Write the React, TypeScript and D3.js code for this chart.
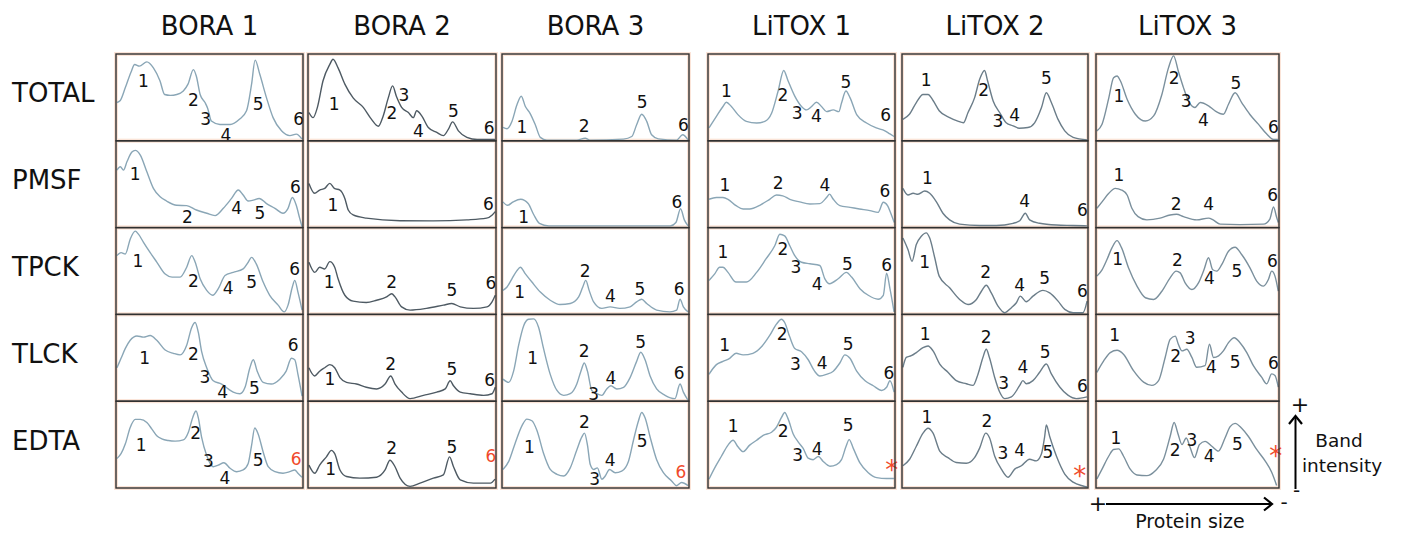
import React from "react";
import * as d3 from "d3";

// ---------- categories ----------
const samples = ["BORA 1", "BORA 2", "BORA 3", "LiTOX 1", "LiTOX 2", "LiTOX 3"];
const treatments = ["TOTAL", "PMSF", "TPCK", "TLCK", "EDTA"];

// ---------- densitometry traces: [relative position %, band intensity %] ----------
const bora1Total = [[0.5,44.6],[2.3,47],[5,62],[8,80],[10,89],[12.5,87],[16.5,92],[20,85],[23.5,70],[26,54],[29,53],[32.5,54],[36,58],[38.5,66],[41.4,83],[43,75],[45,54],[47.6,44.6],[49,38],[51,23],[55.6,19],[61,19],[66,25],[69.8,35],[72.5,66],[74.4,94],[76.9,77.5],[80.5,50],[84,27],[88.5,11.6],[93,6],[96.4,7.8],[99.5,2]];
const bora2Total = [[0.5,33],[2.7,27],[5,39],[8,70],[11.6,89],[13.3,95],[16,85],[19.6,66],[24,50],[29.4,39],[33.8,25],[37.4,17],[40,29],[42.7,50],[45,64],[47,52],[49.8,39],[53.4,33],[56,27],[57.8,35],[60.5,29],[64,15.5],[68.5,9.7],[72,6],[74.7,13.6],[76.9,22],[80,11.6],[84.5,4],[90,1.5],[99.5,1.5]];
const bora3Total = [[0.5,15.6],[2.7,14],[5.3,22.6],[8,42],[10.3,52],[12.5,40],[15,32],[17.8,18.7],[20.5,4],[24,0.8],[40,0.8],[44.5,3],[47,0.8],[65,2],[69.4,5],[72,18.7],[74.7,31],[77.4,22.6],[80,7],[83.6,2.3],[93.4,0.8],[96.6,7],[99.5,1]];
const litox1Total = [[0.5,15],[4.5,28.5],[8,40],[9.8,45],[12.5,40],[16,30.5],[20.5,22.6],[26,20.7],[30.4,22.6],[34,32],[37.5,58],[40.5,82],[42.8,70],[46.4,52],[50,40],[52.7,36],[55.4,40],[58,45],[60.7,40],[63.4,34],[67,36],[70,34],[71.4,44],[73.75,58],[76,50],[79.5,30.5],[84.8,20.7],[90,15],[94.6,11.7],[97.3,8],[99.5,5]];
const litox2Total = [[0.5,25],[4,31],[7.7,44.6],[11.3,54],[14,54],[16.7,47],[20,35],[25.6,27],[30,23],[33,21],[35.5,33],[39,50],[41.8,72],[44.4,82],[46,70],[49,46.5],[52.5,33],[56,21],[59.7,17.4],[63,14.7],[67.7,15.5],[71.3,21],[75,38.8],[77.6,56],[80.3,44.6],[83.9,25],[87.5,11.6],[92,4],[99.5,1]];
const litox3Total = [[0.5,11.6],[3.3,19.4],[7,50],[9.6,73.6],[11.5,75.6],[13.3,70],[17,48.4],[21.5,31],[27,23],[31.5,29],[36,54],[39.6,85],[42.4,99],[45,81],[47.8,62],[50.5,46.5],[54,38.8],[57,44.6],[61.5,40.7],[65,35],[69.6,31],[72.4,42.6],[76,56],[79.6,44.6],[84,31],[88.7,19.4],[93.3,7.8],[97,1.5],[99.6,1.5]];

const bora1Pmsf = [[0.5,67],[2.3,71],[4,67],[5.9,77],[8.5,88],[10.3,90],[13,84.5],[16.5,65],[20,45.7],[23.6,36],[27,31],[32.5,26],[37.8,25.6],[43,20.5],[48.5,16.7],[53,14],[57.4,22.5],[61.8,34],[65.4,43.8],[68,38],[70.7,31],[73.4,32],[76.6,34],[80.5,28],[85,22.5],[89.3,16.7],[92,22.5],[94.3,35],[96.4,26],[98.2,11],[99.5,1]];
const bora2Pmsf = [[0.5,51.5],[3.5,40],[6.2,43.8],[8.9,45.7],[11.6,51.5],[14,45.7],[17,43.8],[19.6,34],[21.4,20.5],[24,14.7],[31,11],[49,8],[66.7,7.8],[84.5,9],[95,11],[98,14.7],[99.6,18.6]];
const bora3Pmsf = [[0.5,30],[3,26],[6,30],[10,33],[14,28],[17,15],[20,5],[25,2],[90,2],[93,6],[95.5,22],[97.5,9],[99.5,2]];
const litox1Pmsf = [[0.5,33],[4.5,35],[8,35],[10.7,33],[15,25.6],[18.75,21.7],[22.3,21.7],[27.7,26],[33,33],[36.6,38],[40,37],[43.75,33],[49,30],[54.5,27.5],[59.8,28],[63.4,35],[65,39],[67,33],[70.5,25.6],[76,23.6],[81,21.7],[86.6,19.8],[91,17.8],[93.75,29.5],[96,25.6],[98.2,14],[99.6,6]];
const litox2Pmsf = [[0.5,45.7],[3.2,38],[6,40],[8.6,38.8],[12.2,42.6],[14.9,40],[18.5,30],[22,16.7],[25.6,9],[31,4],[41.8,2.5],[50.7,2.5],[59.7,5],[63.3,8],[66.3,16.7],[68.6,9],[74,5],[83,3],[92,2.5],[99.5,2]];
const litox3Pmsf = [[0.5,22.5],[3.3,30],[7,40],[10.5,45.7],[14,43.8],[17,38],[19.6,22.5],[23,12.8],[27.8,9],[35,11],[40.5,14.7],[44,15.5],[47.8,12.8],[55,9],[61.5,11],[64,9],[67.8,4],[78.7,3.5],[91.5,4],[95,10],[97,24],[98.7,12],[99.6,6]];

const bora1Tpck = [[0.5,68.5],[2.7,72],[5,70.4],[7.6,87.7],[10.3,97],[12,93.5],[14.7,84],[18.3,72],[21.8,61],[26.3,47],[30,43.5],[34.3,43.5],[37.8,55],[40.5,68.5],[42.3,61],[45,41.5],[48.5,28],[51.7,22.3],[54.7,30],[58.3,45.4],[62.7,49],[68,53],[70.7,60.8],[72.5,66.5],[75,58.8],[78.7,37.7],[82.2,22.3],[86.7,10.8],[90,3],[92,10.8],[94.3,32],[95.6,39.6],[97.3,26],[99.5,5]];
const bora2Tpck = [[0.5,60.8],[3.6,49],[6.2,55],[8.9,53],[11.6,61.5],[14.2,55],[16,41.5],[19.6,22.3],[24,15.4],[31,13.8],[36.5,16.5],[41.8,20.4],[44.5,24],[46.3,20.4],[49.8,8.8],[54.3,5],[63,7],[72,10.8],[76.5,12.7],[81,8.8],[88,7],[95.2,8.8],[97.9,14.6],[99.6,22.3]];
const bora3Tpck = [[0.5,28],[2.7,32],[5.3,41.5],[8,51],[9.8,55],[12.5,47.3],[16,37.7],[20.5,26],[25.8,16.5],[31,11.5],[36.5,12.7],[41,20.4],[43.2,32],[44.8,39.6],[46.6,28],[49,14.6],[53.4,7],[57.8,8.8],[63,7],[68.5,8.8],[72,14.6],[74.7,17.7],[77.4,12.7],[82.7,5],[89.8,3],[93.4,5],[95.2,17.7],[97,8.8],[99.5,3]];
const litox1Tpck = [[0.5,39.6],[3.6,47.3],[6.25,55],[8,55],[10.7,49],[15,37.7],[20.5,37.7],[26,49],[31,64.6],[35.7,80],[38.4,93.5],[41,91.5],[43.75,80],[46.4,68.5],[50,60.8],[54.5,59],[59.8,57],[62.5,41.5],[65,35.8],[69.6,41.5],[74,49],[76.8,43.5],[81.25,30],[85.7,22.3],[91,17.7],[93.75,22.3],[95.5,48],[97.3,30],[99.5,3]];
const litox2Tpck = [[0.5,89],[3.2,75.6],[5.4,62],[7.7,81.4],[10.4,91],[13,95],[14.9,89],[17.6,66],[20,44.6],[25.6,31],[31,17.4],[35.5,11.6],[40,17.4],[42.7,27],[45.3,34],[48,25],[51.6,9.7],[55.2,2],[58.8,7.8],[61.5,13.6],[63.6,21.3],[66.8,14.7],[70.4,21.3],[75.8,28],[79.4,25],[83.9,15.5],[87.5,5.8],[92,2],[97.3,2],[99.5,15.5]];
const litox3Tpck = [[0.5,44.6],[3.3,52],[6,64],[8.7,77.5],[11.5,86],[14,77.5],[17.8,54],[22.4,33],[27,19.4],[31.5,17.4],[36,27],[40.5,42.6],[43.8,50.4],[46,48.4],[48.7,36.8],[52.4,29],[56,36.8],[59,52],[61.5,66],[63.8,52],[66,50.4],[68.7,58],[72.4,73.6],[76,78.3],[79.6,69.8],[84.2,54],[87.8,38.8],[91.5,33],[94.2,40.7],[96,50.4],[97.8,44.6],[99.6,27]];

const bora1Tlck = [[0.5,39],[2.7,50],[5,61.5],[7.6,71],[11.2,76],[14.7,74.7],[18.3,76.6],[21.8,71],[26.3,59.6],[30.7,55.8],[34.3,54],[37.8,65.3],[40.5,86],[42.3,91.7],[44,80.4],[45.8,57.7],[48.5,39],[52,23.8],[56.5,20],[60,14.3],[62.7,10.6],[66.3,8.7],[69,16.2],[71.6,39],[73.4,48.3],[75.5,35],[78.7,21.9],[83,20],[87.6,25.7],[91,35],[93.8,50],[95.6,48.3],[97.3,31.3],[99.5,6]];
const bora2Tlck = [[0.5,39],[3.5,29.4],[6.2,35],[8.9,39],[11.6,42.6],[14.2,39],[17,27.5],[20.5,21.9],[25.8,20],[31,16.2],[36.5,14.3],[41,20],[44,29.4],[46.3,20],[49.8,10.6],[54.3,3],[61.4,6.8],[68.5,10.6],[73,14.3],[75.6,23.8],[77.4,18],[81,10.6],[86.3,8.7],[93.4,6.8],[97.9,8.7],[99.6,16.2]];
const bora3Tlck = [[0.5,25.7],[3.6,21.9],[6.2,35],[8.9,65.3],[11.6,88],[14.2,95.5],[16.9,96],[19.6,86],[22.2,61.5],[25.8,31.3],[29.4,12.5],[33,6.8],[36.5,8.7],[40,20],[42.2,35],[44,44.5],[45.7,35],[48,12.5],[50.7,8.7],[53.4,6.8],[56,14.3],[58.2,18],[61.4,14.3],[65,16.2],[68.5,27.5],[72,46.4],[74.2,57],[76.5,48.3],[79.2,29.4],[82.7,14.3],[87.2,6.8],[92.5,3],[95.2,20],[97,10.6],[99.5,1]];
const litox1Tlck = [[0.5,31.3],[4.5,42.6],[8,46.4],[11.6,50],[15,55.8],[18.75,54],[24,55.8],[28.6,63.4],[33,76.6],[36.6,89.8],[39.3,95.5],[41,91.7],[43.75,74.7],[46.4,61.5],[50,57.7],[53.6,48.3],[57,35],[59.8,29.4],[63.4,31.3],[67,35],[70.5,44.5],[73.2,54],[75.9,50],[79.5,35],[84,23.8],[88.4,18],[92.9,12.5],[95.5,16.2],[97.3,23.8],[99.5,10.6]];
const litox2Tlck = [[0.5,39.5],[2.3,51],[5,53],[7.7,56.7],[11.3,62.5],[14,64.4],[16.7,58.6],[20.3,43.3],[24.7,33.7],[29.2,24],[34.6,20.3],[38.2,18.4],[40.9,31.8],[43.5,51],[45.3,60.5],[47,51],[49.8,28],[52.5,10.7],[55.2,3],[58.8,5],[63.3,18.4],[65,24],[66.8,20.3],[70.4,24],[74,33.7],[77.6,43.3],[80.3,31.8],[84.8,16.5],[89.2,7],[93.7,3],[99.5,5]];
const litox3Tlck = [[0.5,33.7],[4.2,47],[7.8,56.7],[11.5,59.4],[15,54.8],[20.5,35.6],[26,22.2],[30.5,18.4],[34.2,24],[37.8,51],[40.5,72],[43.3,75.9],[45,66.3],[47,58.6],[49.6,60.5],[52.4,51],[55,39.5],[59.6,41.4],[62,66.3],[64.2,51],[67,52.9],[69.6,58.6],[72.4,68.2],[75.5,74],[78.7,68.2],[82.4,56.7],[86,41.4],[90.5,28],[93.3,20.3],[96,31.8],[97.8,29.9],[99.6,16.5]];

const bora1Edta = [[0.5,34.4],[2.7,40],[5,51.5],[7.6,70.6],[10.3,80],[13,80],[16.5,76.3],[19.2,68.7],[21.8,61],[24.5,57.3],[28,55.3],[31.6,54.6],[36,56],[38.7,65],[41,82],[42.8,89.7],[44,82],[45.8,59],[48.5,38],[52,24.8],[54.7,26.7],[57.7,29.4],[61,23],[64.5,19],[68,21],[70.7,28.6],[72.5,49.6],[74.2,70],[76,63],[78.7,42],[81.4,24.8],[85,19],[89.3,17.2],[92.9,19],[95.6,21],[97.3,17.2],[99.5,12.6]];
const bora2Edta = [[0.5,26.7],[3.6,17.2],[6.2,26.7],[9.8,36.3],[12.5,43.9],[14.2,40],[17,21],[20.5,13.4],[27.6,11.5],[36.5,12.6],[41,21],[43.6,32.4],[46.3,24.8],[49,11.5],[54.3,1.9],[59.6,5.7],[66.7,11.5],[72,15.3],[75.3,36.3],[77.4,24.8],[81,9.5],[88,5.7],[97,5.7],[99.5,10.3]];
const bora3Edta = [[0.5,21.6],[3.6,31],[7,52],[10.7,72.7],[13.3,80.3],[16,78.4],[18.7,67],[22.2,40.5],[25.8,21.6],[29.4,16],[33,14],[36.5,23.5],[40,44.3],[42.7,59.5],[44.1,64],[45.7,50],[47.2,27.3],[49,21.6],[51,23.5],[53.4,10.2],[55.2,14],[57.5,21.6],[60.5,17.8],[64,19.7],[67.6,31],[70.3,55.7],[73,78.4],[74.7,88],[76.5,82],[79.2,59.5],[82.7,33],[86.3,17.8],[90.7,8.3],[93.4,2.7],[96,6.4],[99.5,2.7]];
const litox1Edta = [[0.5,10.2],[3.6,23.5],[7.1,36.7],[10.7,50],[13.4,55.7],[16,48],[18.75,42.4],[22.3,50],[26,55.7],[29.5,61.4],[34,65],[36.6,70.8],[39.3,82.2],[41,88],[42.9,80.3],[45.5,63.3],[48.2,53.8],[50.9,46.2],[53.6,34.8],[56.25,33],[59,36.7],[61.6,31],[65.2,25.4],[68.75,27.3],[71.4,33],[73.75,48],[75.5,56.4],[77.7,46.2],[81.25,29.2],[85.7,17.8],[90.2,12.1],[95.5,11],[99.5,11]];
const litox2Edta = [[0.5,25.9],[4.1,33.5],[7.7,48.7],[11.3,63.9],[14,69.6],[16.7,63.9],[20.3,43],[24.7,35.4],[29.2,29.7],[34.6,28.9],[39,35.4],[41.8,46.8],[45,63.9],[47.1,58.2],[49.8,37.3],[53.4,22],[57,12.5],[60.6,22],[64.2,25.9],[68.6,33.5],[72.2,31.6],[74.9,39.2],[76.7,60],[77.6,73.4],[79.4,60],[83,37.3],[87.5,16.3],[92,6.8],[97.3,2.3],[99.5,1.1]];
const litox3Edta = [[0.5,10.6],[3.3,22],[7,37.3],[9.6,44.9],[12.4,45.6],[15,37.3],[18.7,22],[22.4,15.2],[27.8,14.4],[32.4,20.2],[36.9,33.5],[40.5,60],[42.7,76.4],[44.7,63.9],[47,50.6],[49.3,58.2],[51.5,46.8],[53.8,35.4],[56.5,50.6],[59.6,54.4],[63.3,48.7],[66.9,43],[70.5,58.2],[73.3,71.5],[76,75.3],[79.6,69.6],[83.3,60],[87.8,44.9],[92.4,31.6],[96,18.3],[98.7,3]];

// ---------- peak annotations: [label, position %, intensity %, highlighted?] ----------
const bora1TotalPeaks = [["1",14.7,69.8],["2",41.4,48],["3",48,25],["4",58.8,7],["5",76,43],["6",97.7,25]];
const bora2TotalPeaks = [["1",13.9,42.6],["2",44.7,33],["3",51,53.5],["4",58.7,11.6],["5",77.4,35],["6",96.3,14.7]];
const bora3TotalPeaks = [["1",10.7,16],["2",44,17.6],["5",75,45],["6",97,18.7]];
const litox1TotalPeaks = [["1",9.8,58],["2",40,53],["3",47.7,33],["4",58,28.5],["5",73.75,69],["6",95,30]];
const litox2TotalPeaks = [["1",13,70.5],["2",43.9,59],["3",51.6,23],["4",60.6,30],["5",77.6,73]];
const litox3TotalPeaks = [["1",12.5,52],["2",42.7,73],["3",49.3,46.5],["4",58.7,24],["5",76.5,68],["6",97,16]];

const bora1PmsfPeaks = [["1",10.3,63],["2",38.2,13],["4",64.5,22.5],["5",77,16.7],["6",96,48]];
const bora2PmsfPeaks = [["1",13.3,26],["6",96,27.5]];
const bora3PmsfPeaks = [["1",11.6,12],["6",93.6,30]];
const litox1PmsfPeaks = [["1",9,49.6],["2",37.5,52.7],["4",62.5,49.6],["6",94.6,43]];
const litox2PmsfPeaks = [["1",13.6,58],["4",66,31],["6",97,20.5]];
const litox3PmsfPeaks = [["1",12.5,61],["2",43.8,28],["4",61.5,28],["6",96.5,38]];

const bora1TpckPeaks = [["1",11.7,62.7],["2",41.4,39.6],["4",60,30.8],["5",72.5,37.7],["6",95.6,53]];
const bora2TpckPeaks = [["1",11.2,37.7],["2",44.5,37.7],["5",76.5,29],["6",97.3,37]];
const bora3TpckPeaks = [["1",9.4,26],["2",44.5,51],["4",58,21.5],["5",73.8,30],["6",94.7,30]];
const litox1TpckPeaks = [["1",8,73],["2",40,76],["3",47,55],["4",58.4,35.8],["5",74.6,58.8],["6",95.5,58]];
const litox2TpckPeaks = [["1",12.2,61],["2",45,49.6],["4",63.3,34],["5",76.7,42.6],["6",97,27]];
const litox3TpckPeaks = [["1",11.8,64.3],["2",44.5,64],["4",62,42.6],["5",77,51],["6",96.4,62.8]];

const bora1TlckPeaks = [["1",15.3,51],["2",41.4,55],["3",47.6,28.7],["4",57,10.6],["5",74,15],["6",94.7,66]];
const bora2TlckPeaks = [["1",11.6,25.7],["2",44,43.4],["5",76.5,37.7],["6",96.6,24.5]];
const bora3TlckPeaks = [["1",16.4,51],["2",44,58.5],["3",49,8.7],["4",58.2,27.5],["5",74.2,69],["6",94.7,32.5]];
const litox1TlckPeaks = [["1",8.9,65.3],["2",39.6,78.5],["3",46.8,43.8],["4",61,44.5],["5",75,67],["6",96.8,32.5]];
const litox2TlckPeaks = [["1",12.5,79],["2",45.3,75],["3",54.7,21],["4",65,39.5],["5",77,57.5],["6",97,18.4]];
const litox3TlckPeaks = [["1",10.2,77],["2",43.6,52.9],["3",51.5,74],["4",63,39.5],["5",76,46],["6",97,44.8]];

const bora1EdtaPeaks = [["1",13.5,50.4],["2",42.6,63.7],["3",49.4,31.3],["4",58.3,11.5],["5",76,33.2],["6",96.4,33.6,true]];
const bora2EdtaPeaks = [["1",12.1,22.5],["2",44.5,47],["5",76.5,48.5],["6",97.3,37,true]];
const bora3EdtaPeaks = [["1",14.6,48],["2",44.1,76.5],["3",49.5,11],["4",57.8,32.2],["5",75,54.5],["6",95.7,18.6,true]];
const litox1EdtaPeaks = [["1",13.4,72.7],["2",40.2,67],["3",47.9,38.6],["4",58.4,45.5],["5",75,73.9],["*",98.2,27.3,true]];
const litox2EdtaPeaks = [["1",13.4,82.9],["2",45.7,78.3],["3",54.3,41],["4",63.3,44.1],["5",78.5,41.8],["*",95.5,20.2,true]];
const litox3EdtaPeaks = [["1",10.9,58.9],["2",43.3,44.1],["3",52.4,55.9],["4",61.8,37.3],["5",77.3,51.7],["*",98.2,43.7,true]];

// grid of traces [row][column]
const traceGrid = [
  [bora1Total, bora2Total, bora3Total, litox1Total, litox2Total, litox3Total],
  [bora1Pmsf, bora2Pmsf, bora3Pmsf, litox1Pmsf, litox2Pmsf, litox3Pmsf],
  [bora1Tpck, bora2Tpck, bora3Tpck, litox1Tpck, litox2Tpck, litox3Tpck],
  [bora1Tlck, bora2Tlck, bora3Tlck, litox1Tlck, litox2Tlck, litox3Tlck],
  [bora1Edta, bora2Edta, bora3Edta, litox1Edta, litox2Edta, litox3Edta],
];
const peakGrid = [
  [bora1TotalPeaks, bora2TotalPeaks, bora3TotalPeaks, litox1TotalPeaks, litox2TotalPeaks, litox3TotalPeaks],
  [bora1PmsfPeaks, bora2PmsfPeaks, bora3PmsfPeaks, litox1PmsfPeaks, litox2PmsfPeaks, litox3PmsfPeaks],
  [bora1TpckPeaks, bora2TpckPeaks, bora3TpckPeaks, litox1TpckPeaks, litox2TpckPeaks, litox3TpckPeaks],
  [bora1TlckPeaks, bora2TlckPeaks, bora3TlckPeaks, litox1TlckPeaks, litox2TlckPeaks, litox3TlckPeaks],
  [bora1EdtaPeaks, bora2EdtaPeaks, bora3EdtaPeaks, litox1EdtaPeaks, litox2EdtaPeaks, litox3EdtaPeaks],
];

// ---------- layout & style ----------
const W = 1401, H = 535;
const colLeft = [116, 308, 502, 708, 902, 1096];
const colWidth = [187, 188, 187, 187, 186, 183];
const top0 = 54, bottom0 = 488;
const traceColor = ["#8aa6b6", "#4e5a63", "#8aa6b6", "#8aa6b6", "#6b7d89", "#7b909d"];
const FONT = "'DejaVu Sans', Verdana, sans-serif";
const RED = "#f04a2c";

export default function App() {
  const rowScale = d3.scaleBand<number>().domain(d3.range(treatments.length)).range([top0, bottom0]).padding(0);
  const rowH = rowScale.bandwidth();

  const halos: React.ReactNode[] = [];
  const panels: React.ReactNode[] = [];
  treatments.forEach((t, r) => {
    samples.forEach((s, c) => {
      const x0 = colLeft[c], w = colWidth[c];
      const y0 = rowScale(r) as number;
      const xs = d3.scaleLinear().domain([0, 100]).range([x0, x0 + w]);
      const ys = d3.scaleLinear().domain([0, 100]).range([y0 + rowH, y0 + 1]);
      const line = d3.line<number[]>().x((d) => xs(d[0])).y((d) => ys(d[1])).curve(d3.curveMonotoneX);
      const id = `clip-${r}-${c}`;
      halos.push(
        <rect key={`h-${id}`} x={x0} y={y0} width={w} height={rowH} fill="#fff" stroke="#fbe4d8" strokeWidth={4} />
      );
      panels.push(
        <g key={id}>
          <clipPath id={id}>
            <rect x={x0} y={y0} width={w} height={rowH} />
          </clipPath>
          <path d={line(traceGrid[r][c] as number[][]) || ""} fill="none" stroke={traceColor[c]} strokeWidth={1.4} strokeLinejoin="round" clipPath={`url(#${id})`} />
          {(peakGrid[r][c] as any[]).map((p, i) => {
            const star = p[0] === "*";
            return (
              <text
                key={i}
                x={xs(p[1])}
                y={ys(p[2])}
                dy={star ? "0.55em" : "0.36em"}
                textAnchor="middle"
                fontFamily={FONT}
                fontSize={star ? 26 : 17}
                fill={p[3] ? RED : "#111"}
              >
                {p[0]}
              </text>
            );
          })}
          <rect x={x0} y={y0} width={w} height={rowH} fill="none" stroke="#303030" strokeWidth={1.4} />
        </g>
      );
    });
  });

  return (
    <svg width={W} height={H} viewBox={`0 0 ${W} ${H}`} style={{ position: "absolute", left: 0, top: 0, background: "#fff" }}>
      <rect x={0} y={0} width={W} height={H} fill="#fff" />
      {samples.map((s, c) => (
        <text key={s} x={colLeft[c] + colWidth[c] / 2} y={35} textAnchor="middle" fontFamily={FONT} fontSize={26} fill="#111">
          {s}
        </text>
      ))}
      {treatments.map((t, r) => (
        <text key={t} x={12} y={(rowScale(r) as number) + rowH / 2 + 5} fontFamily={FONT} fontSize={26} fill="#111">
          {t}
        </text>
      ))}
      {halos}
      {panels}
      {/* axis legend */}
      <g fontFamily={FONT} fill="#111">
        <text x={1300} y={404} dy="0.36em" textAnchor="middle" fontSize={22}>+</text>
        <line x1={1295.5} y1={489} x2={1295.5} y2={416} stroke="#000" strokeWidth={2} />
        <path d="M1289,424 L1295.5,416 L1302,424" fill="none" stroke="#000" strokeWidth={2.2} />
        <text x={1296.5} y={490} dy="0.36em" textAnchor="middle" fontSize={20}>-</text>
        <text x={1339} y={447} textAnchor="middle" fontSize={18.5}>Band</text>
        <text x={1342} y={472} textAnchor="middle" fontSize={18.5}>intensity</text>
        <text x={1098} y={503} dy="0.36em" textAnchor="middle" fontSize={22}>+</text>
        <line x1={1106} y1={504} x2={1272} y2={504} stroke="#000" strokeWidth={2} />
        <path d="M1264,497.5 L1272,504 L1264,510.5" fill="none" stroke="#000" strokeWidth={2.2} />
        <text x={1284} y={502} dy="0.36em" textAnchor="middle" fontSize={20}>-</text>
        <text x={1190} y={528} textAnchor="middle" fontSize={19}>Protein size</text>
      </g>
    </svg>
  );
}
